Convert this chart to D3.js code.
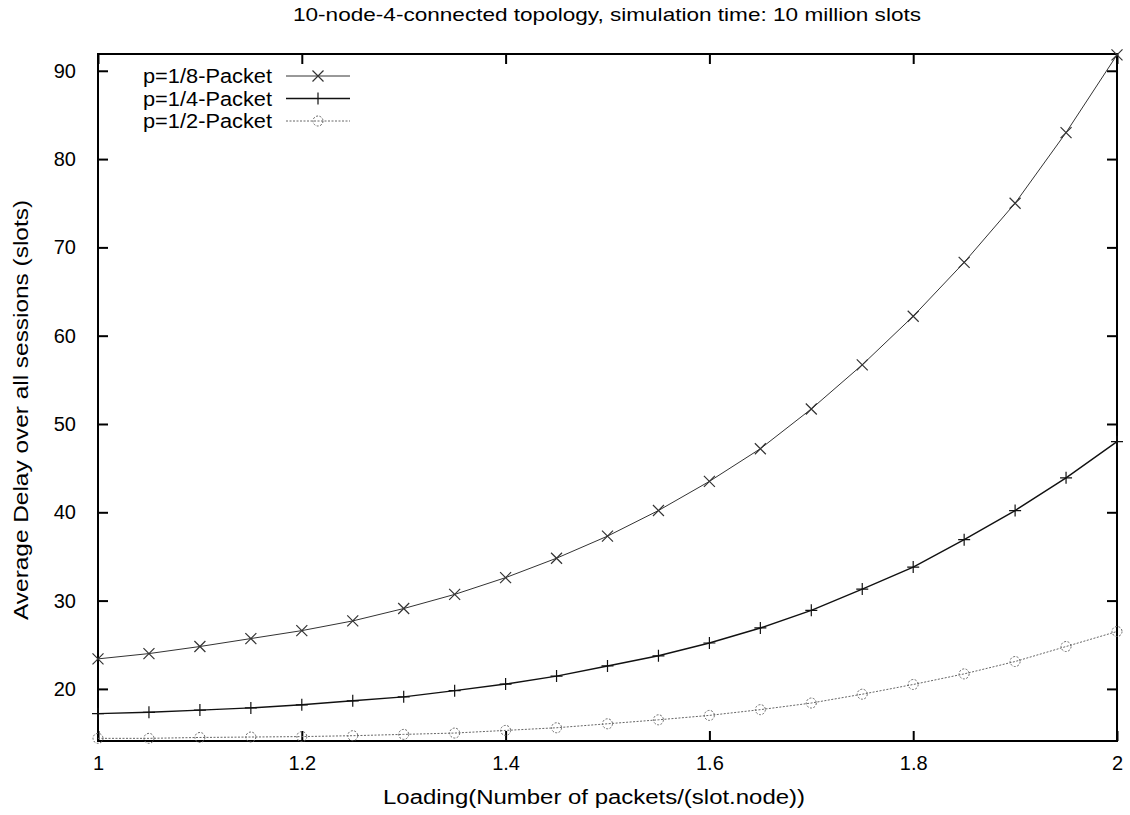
<!DOCTYPE html>
<html>
<head>
<meta charset="utf-8">
<script src="https://cdn.jsdelivr.net/npm/d3@7"></script>
<style>
  body { margin: 0; background: #fff; }
  svg { font-family: "Liberation Sans", Arial, sans-serif; }
</style>
</head>
<body>
<div id="chart"></div>
<script>
// loading values on the x axis
const loading = [1, 1.05, 1.1, 1.15, 1.2, 1.25, 1.3, 1.35, 1.4, 1.45, 1.5,
                 1.55, 1.6, 1.65, 1.7, 1.75, 1.8, 1.85, 1.9, 1.95, 2];

// average delay per series
const delayP8 = [23.4, 24.0, 24.8, 25.7, 26.6, 27.7, 29.1, 30.7, 32.6, 34.8, 37.3,
                 40.2, 43.5, 47.2, 51.7, 56.7, 62.2, 68.3, 75.0, 83.0, 91.8];
const delayP4 = [17.2, 17.35, 17.6, 17.85, 18.2, 18.65, 19.1, 19.8, 20.55, 21.45, 22.6,
                 23.75, 25.2, 26.9, 28.9, 31.3, 33.8, 36.9, 40.2, 43.9, 48.0];
const delayP2 = [14.4, 14.4, 14.5, 14.55, 14.6, 14.7, 14.85, 15.0, 15.3, 15.6, 16.05,
                 16.5, 17.0, 17.65, 18.4, 19.4, 20.5, 21.7, 23.1, 24.8, 26.5];

const seriesNames = ["p=1/8-Packet", "p=1/4-Packet", "p=1/2-Packet"];
const xTicks = [1, 1.2, 1.4, 1.6, 1.8, 2];
const yTicks = [20, 30, 40, 50, 60, 70, 80, 90];
const yRange = [14.1, 91.9];

const WIDTH = 1130, HEIGHT = 815;
const LEFT = 98, RIGHT = 1117, TOP = 54, BOTTOM = 741;
const TICK_LEN = 10;

const svg = d3.select("#chart").append("svg")
    .attr("width", WIDTH)
    .attr("height", HEIGHT);

const x = d3.scaleLinear().domain([1, 2]).range([LEFT, RIGHT]);
const y = d3.scaleLinear().domain(yRange).range([BOTTOM, TOP]);

// title
svg.append("text")
    .attr("x", 607).attr("y", 21)
    .attr("text-anchor", "middle")
    .attr("textLength", 628)
    .attr("lengthAdjust", "spacingAndGlyphs")
    .style("font-size", "19px")
    .text("10-node-4-connected topology, simulation time: 10 million slots");

// axes (ticks inside, mirrored on top and right)
const axisStyle = g => {
    g.select(".domain").remove();
    g.selectAll(".tick line").attr("stroke", "#000").attr("stroke-width", 2);
    g.selectAll(".tick text").style("font-size", "20px").attr("fill", "#000");
};

svg.append("g")
    .attr("transform", `translate(0,${BOTTOM})`)
    .call(d3.axisBottom(x).tickValues(xTicks).tickSize(-TICK_LEN).tickPadding(15)
        .tickFormat(d => String(d)))
    .call(axisStyle);

svg.append("g")
    .attr("transform", `translate(0,${TOP})`)
    .call(d3.axisTop(x).tickValues(xTicks).tickSize(-TICK_LEN).tickFormat(""))
    .call(axisStyle);

svg.append("g")
    .attr("transform", `translate(${LEFT},0)`)
    .call(d3.axisLeft(y).tickValues(yTicks).tickSize(-TICK_LEN).tickPadding(22))
    .call(axisStyle);

svg.append("g")
    .attr("transform", `translate(${RIGHT},0)`)
    .call(d3.axisRight(y).tickValues(yTicks).tickSize(-TICK_LEN).tickFormat(""))
    .call(axisStyle);

// frame
svg.append("rect")
    .attr("x", LEFT).attr("y", TOP)
    .attr("width", RIGHT - LEFT).attr("height", BOTTOM - TOP)
    .attr("fill", "none").attr("stroke", "#000").attr("stroke-width", 2);

// axis labels
svg.append("text")
    .attr("x", 594).attr("y", 804)
    .attr("text-anchor", "middle")
    .attr("textLength", 422)
    .attr("lengthAdjust", "spacingAndGlyphs")
    .style("font-size", "20px")
    .text("Loading(Number of packets/(slot.node))");

svg.append("text")
    .attr("transform", `translate(28,410) rotate(-90)`)
    .attr("text-anchor", "middle")
    .attr("textLength", 420)
    .attr("lengthAdjust", "spacingAndGlyphs")
    .style("font-size", "20px")
    .text("Average Delay over all sessions (slots)");

// series
const styles = [
    {values: delayP8, stroke: "#333", width: 1, dash: null, marker: "x"},
    {values: delayP4, stroke: "#111", width: 1.4, dash: null, marker: "plus"},
    {values: delayP2, stroke: "#666", width: 1, dash: "2,1.5", marker: "circle"}
];

function drawMarker(g, kind, cx, cy, color) {
    if (kind === "x") {
        const s = 5.5;
        g.append("path")
            .attr("d", `M${cx - s},${cy - s}L${cx + s},${cy + s}M${cx - s},${cy + s}L${cx + s},${cy - s}`)
            .attr("stroke", color).attr("stroke-width", 1.2).attr("fill", "none");
    } else if (kind === "plus") {
        const s = 6;
        g.append("path")
            .attr("d", `M${cx - s},${cy}L${cx + s},${cy}M${cx},${cy - s}L${cx},${cy + s}`)
            .attr("stroke", color).attr("stroke-width", 1.2).attr("fill", "none");
    } else {
        g.append("circle")
            .attr("cx", cx).attr("cy", cy).attr("r", 5)
            .attr("stroke", color).attr("stroke-width", 1)
            .attr("stroke-dasharray", "2,1.5").attr("fill", "none");
    }
}

const line = d3.line()
    .x(d => x(d[0]))
    .y(d => y(d[1]));

styles.forEach(s => {
    const pts = loading.map((l, i) => [l, s.values[i]]);
    const g = svg.append("g");
    g.append("path")
        .datum(pts)
        .attr("d", line)
        .attr("fill", "none")
        .attr("stroke", s.stroke)
        .attr("stroke-width", s.width)
        .attr("stroke-dasharray", s.dash);
    pts.forEach(p => drawMarker(g, s.marker, x(p[0]), y(p[1]), s.stroke));
});

// legend
const legend = svg.append("g");
seriesNames.forEach((name, i) => {
    const ly = 76 + i * 22.5;
    const s = styles[i];
    legend.append("text")
        .attr("x", 272).attr("y", ly)
        .attr("dy", "0.35em")
        .attr("text-anchor", "end")
        .attr("textLength", 129)
        .attr("lengthAdjust", "spacingAndGlyphs")
        .style("font-size", "20px")
        .text(name);
    legend.append("line")
        .attr("x1", 286).attr("x2", 350)
        .attr("y1", ly).attr("y2", ly)
        .attr("stroke", s.stroke)
        .attr("stroke-width", s.width)
        .attr("stroke-dasharray", s.dash);
    drawMarker(legend, s.marker, 318, ly, s.stroke);
});
</script>
</body>
</html>
